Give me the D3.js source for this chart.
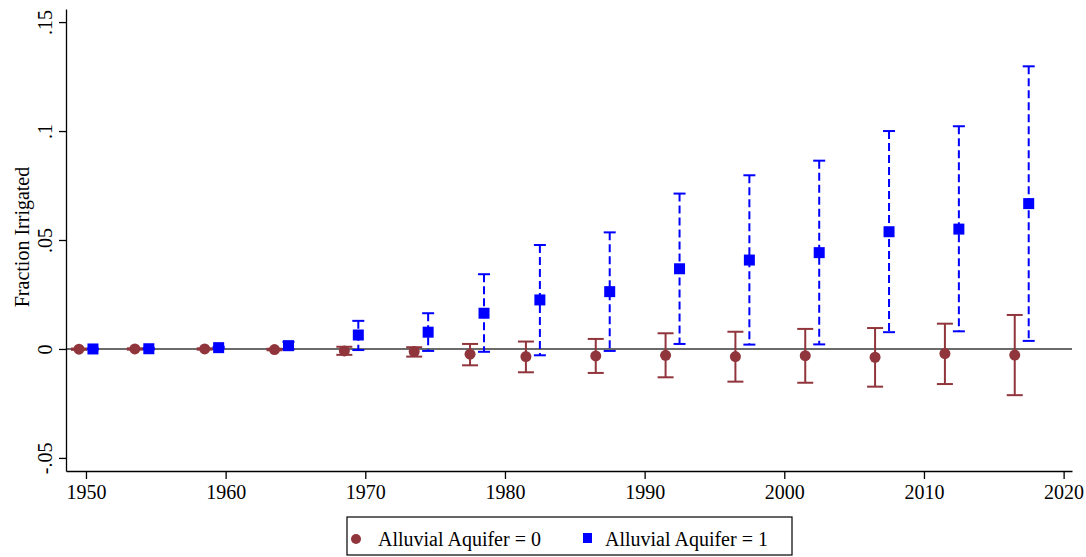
<!DOCTYPE html>
<html>
<head>
<meta charset="utf-8">
<script src="https://d3js.org/d3.v7.min.js"></script>
<style>
  body { margin: 0; background: #fff; }
  text { font-family: "Liberation Serif", "Times New Roman", serif; }
</style>
</head>
<body>
<div id="chart"></div>
<script>
// data
var years = [1950, 1954, 1959, 1964, 1969, 1974, 1978, 1982, 1987, 1992, 1997, 2002, 2007, 2012, 2017];

// Alluvial Aquifer = 0
var mean0 = [-0.0001, 0, 0, -0.0003, -0.0009, -0.0012, -0.0024, -0.0035, -0.0032, -0.0029, -0.0035, -0.0031, -0.0038, -0.0021, -0.0028];
var lo0   = [-0.0004, -0.0003, -0.0003, -0.0006, -0.0027, -0.0035, -0.0075, -0.0107, -0.011, -0.013, -0.015, -0.0155, -0.0173, -0.0161, -0.0212];
var hi0   = [0.0002, 0.0003, 0.0003, 0.0001, 0.001, 0.0008, 0.0023, 0.0034, 0.0046, 0.0072, 0.0079, 0.0092, 0.0096, 0.0116, 0.0156];

// Alluvial Aquifer = 1
var mean1 = [0, 0.0001, 0.0006, 0.0015, 0.0064, 0.0077, 0.0164, 0.0225, 0.0263, 0.0368, 0.0408, 0.0442, 0.0538, 0.055, 0.0667];
var lo1   = [-0.0002, -0.0002, 0.0002, -0.0002, -0.0005, -0.0009, -0.0013, -0.0029, -0.0009, 0.0023, 0.002, 0.0021, 0.0077, 0.0081, 0.0037];
var hi1   = [0.0002, 0.0004, 0.001, 0.0033, 0.0129, 0.0164, 0.0343, 0.0477, 0.0535, 0.0713, 0.0797, 0.0864, 0.1, 0.1022, 0.1297];

var xTicks = [1950, 1960, 1970, 1980, 1990, 2000, 2010, 2020];
var yTicks = [-0.05, 0, 0.05, 0.1, 0.15];
var yTickLabels = ["-.05", "0", ".05", ".1", ".15"];
var legendLabels = ["Alluvial Aquifer = 0", "Alluvial Aquifer = 1"];

var red = "#90353b", blue = "#0000ff";

var W = 1086, H = 557;
var margin = {top: 9, right: 14, bottom: 86, left: 66},
    width = W - margin.left - margin.right,
    height = H - margin.top - margin.bottom;

var svg = d3.select("#chart")
    .append("svg")
    .attr("width", W)
    .attr("height", H)
    .append("g")
    .attr("transform", "translate(" + margin.left + "," + margin.top + ")");

var x = d3.scaleLinear()
    .domain([1948.57, 2020.6])
    .range([0, width]);

var y = d3.scaleLinear()
    .domain([-0.056, 0.156])
    .range([height, 0]);

// zero line
svg.append("line")
    .attr("x1", 0).attr("x2", width)
    .attr("y1", y(0)).attr("y2", y(0))
    .attr("stroke", "#3a3a3a")
    .attr("stroke-width", 1.6);

// X axis
var gx = svg.append("g")
    .attr("transform", "translate(0," + height + ")")
    .call(d3.axisBottom(x).tickValues(xTicks).tickFormat(d3.format("d")).tickSize(8).tickSizeOuter(0).tickPadding(6));
gx.select(".domain").attr("stroke", "#000").attr("stroke-width", 1.3);
gx.selectAll(".tick line").attr("stroke", "#000").attr("stroke-width", 1.3);
gx.selectAll("text").style("font-size", "20px").attr("fill", "#000");

// Y axis
var gy = svg.append("g")
    .call(d3.axisLeft(y).tickValues(yTicks).tickFormat(function(d, i) { return yTickLabels[i]; }).tickSize(7).tickSizeOuter(0));
gy.select(".domain").attr("stroke", "#000").attr("stroke-width", 1.3);
gy.selectAll(".tick line").attr("stroke", "#000").attr("stroke-width", 1.3);
gy.selectAll("text")
    .style("font-size", "20px")
    .attr("fill", "#000")
    .attr("x", 0).attr("dy", 0)
    .attr("text-anchor", "middle")
    .attr("transform", "translate(-14,0) rotate(-90)");

svg.append("text")
    .attr("transform", "translate(" + (-37) + "," + (height / 2 - 3) + ") rotate(-90)")
    .attr("text-anchor", "middle")
    .style("font-size", "20px")
    .text("Fraction Irrigated");

var d0 = years.map(function(yr, i) { return {x: yr - 0.5, m: mean0[i], lo: lo0[i], hi: hi0[i]}; });
var d1 = years.map(function(yr, i) { return {x: yr + 0.5, m: mean1[i], lo: lo1[i], hi: hi1[i]}; });

// series 0: solid error bars, circles
var g0 = svg.append("g");
g0.selectAll(".bar").data(d0).enter().append("line")
    .attr("x1", function(d) { return x(d.x); }).attr("x2", function(d) { return x(d.x); })
    .attr("y1", function(d) { return y(d.lo); }).attr("y2", function(d) { return y(d.hi); })
    .attr("stroke", red).attr("stroke-width", 2);
[["lo"], ["hi"]].forEach(function(k) {
    g0.selectAll(".cap" + k).data(d0).enter().append("line")
        .attr("x1", function(d) { return x(d.x) - 8; }).attr("x2", function(d) { return x(d.x) + 8; })
        .attr("y1", function(d) { return y(d[k]); }).attr("y2", function(d) { return y(d[k]); })
        .attr("stroke", red).attr("stroke-width", 2);
});
g0.selectAll("circle").data(d0).enter().append("circle")
    .attr("cx", function(d) { return x(d.x); })
    .attr("cy", function(d) { return y(d.m); })
    .attr("r", 5.5)
    .attr("fill", red);

// series 1: dashed error bars, squares
var g1 = svg.append("g");
g1.selectAll(".bar").data(d1).enter().append("line")
    .attr("x1", function(d) { return x(d.x); }).attr("x2", function(d) { return x(d.x); })
    .attr("y1", function(d) { return y(d.hi); }).attr("y2", function(d) { return y(d.lo); })
    .attr("stroke", blue).attr("stroke-width", 2)
    .attr("stroke-dasharray", "8,4");
[["lo"], ["hi"]].forEach(function(k) {
    g1.selectAll(".cap" + k).data(d1).enter().append("line")
        .attr("x1", function(d) { return x(d.x) - 6; }).attr("x2", function(d) { return x(d.x) + 6; })
        .attr("y1", function(d) { return y(d[k]); }).attr("y2", function(d) { return y(d[k]); })
        .attr("stroke", blue).attr("stroke-width", 2);
});
g1.selectAll("rect").data(d1).enter().append("rect")
    .attr("x", function(d) { return x(d.x) - 5.5; })
    .attr("y", function(d) { return y(d.m) - 5.5; })
    .attr("width", 11).attr("height", 11)
    .attr("fill", blue);

// legend
var root = d3.select("#chart svg");
var lg = root.append("g").attr("transform", "translate(347,517)");
lg.append("rect")
    .attr("width", 445).attr("height", 38)
    .attr("fill", "#fff").attr("stroke", "#000").attr("stroke-width", 1.2);
lg.append("circle").attr("cx", 9).attr("cy", 22).attr("r", 5).attr("fill", red);
lg.append("text").attr("x", 31).attr("y", 29).style("font-size", "20px").text(legendLabels[0]);
lg.append("rect").attr("x", 236).attr("y", 16).attr("width", 9).attr("height", 10).attr("fill", blue);
lg.append("text").attr("x", 258).attr("y", 29).style("font-size", "20px").text(legendLabels[1]);
</script>
</body>
</html>
